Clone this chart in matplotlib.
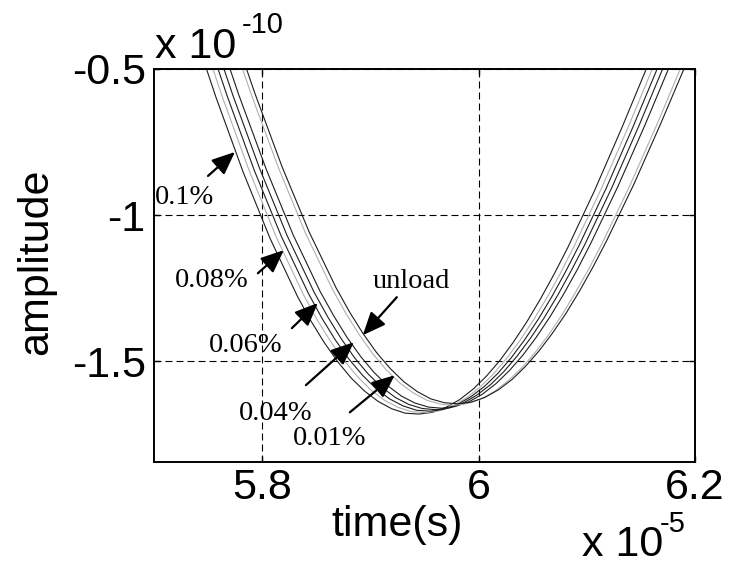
import matplotlib
matplotlib.use('Agg')
import matplotlib.pyplot as plt

# time in units of 1e-5 s, amplitude in units of 1e-10
t_c1 = [5.7323, 5.7573, 5.7823, 5.8073, 5.8323, 5.8448, 5.8573, 5.8698, 5.8823, 5.8948,
        5.9073, 5.9198, 5.9323, 5.9448, 5.9573, 5.9698, 5.9823, 5.9948, 6.0073, 6.0198,
        6.0323, 6.0448, 6.0573, 6.0698, 6.0823, 6.1073, 6.1323, 6.1573, 6.1823]
a_c1 = [-0.321, -0.597, -0.852, -1.080, -1.276, -1.361, -1.436, -1.502, -1.558, -1.603,
        -1.638, -1.663, -1.678, -1.681, -1.675, -1.658, -1.632, -1.596, -1.551, -1.497,
        -1.434, -1.364, -1.286, -1.202, -1.112, -0.915, -0.702, -0.479, -0.250]

t_c2 = [5.7381, 5.7631, 5.7881, 5.8131, 5.8381, 5.8506, 5.8631, 5.8756, 5.8881, 5.9006,
        5.9131, 5.9256, 5.9381, 5.9506, 5.9631, 5.9756, 5.9881, 6.0006, 6.0131, 6.0256,
        6.0381, 6.0506, 6.0631, 6.0756, 6.0881, 6.1131, 6.1381, 6.1631, 6.1881]
a_c2 = [-0.320, -0.595, -0.849, -1.076, -1.272, -1.357, -1.432, -1.497, -1.553, -1.599,
        -1.634, -1.658, -1.673, -1.676, -1.670, -1.654, -1.627, -1.591, -1.546, -1.492,
        -1.430, -1.360, -1.283, -1.199, -1.108, -0.912, -0.700, -0.477, -0.249]

t_c3 = [5.7427, 5.7677, 5.7927, 5.8177, 5.8427, 5.8552, 5.8677, 5.8802, 5.8927, 5.9052,
        5.9177, 5.9302, 5.9427, 5.9552, 5.9677, 5.9802, 5.9927, 6.0052, 6.0177, 6.0302,
        6.0427, 6.0552, 6.0677, 6.0802, 6.0927, 6.1177, 6.1427, 6.1677, 6.1927]
a_c3 = [-0.319, -0.593, -0.847, -1.073, -1.268, -1.353, -1.428, -1.493, -1.548, -1.594,
        -1.629, -1.653, -1.668, -1.671, -1.665, -1.649, -1.622, -1.587, -1.542, -1.488,
        -1.426, -1.356, -1.279, -1.195, -1.105, -0.910, -0.698, -0.476, -0.249]

t_c4 = [5.7480, 5.7730, 5.7980, 5.8230, 5.8480, 5.8605, 5.8730, 5.8855, 5.8980, 5.9105,
        5.9230, 5.9355, 5.9480, 5.9605, 5.9730, 5.9855, 5.9980, 6.0105, 6.0230, 6.0355,
        6.0480, 6.0605, 6.0730, 6.0855, 6.0980, 6.1230, 6.1480, 6.1730, 6.1980]
a_c4 = [-0.318, -0.591, -0.844, -1.070, -1.264, -1.348, -1.423, -1.489, -1.544, -1.589,
        -1.624, -1.648, -1.662, -1.666, -1.660, -1.644, -1.617, -1.582, -1.537, -1.483,
        -1.421, -1.352, -1.275, -1.191, -1.102, -0.907, -0.696, -0.474, -0.248]

t_c5 = [5.7535, 5.7785, 5.8035, 5.8285, 5.8535, 5.8660, 5.8785, 5.8910, 5.9035, 5.9160,
        5.9285, 5.9410, 5.9535, 5.9660, 5.9785, 5.9910, 6.0035, 6.0160, 6.0285, 6.0410,
        6.0535, 6.0660, 6.0785, 6.0910, 6.1035, 6.1285, 6.1535, 6.1785, 6.2035]
a_c5 = [-0.317, -0.590, -0.841, -1.067, -1.261, -1.344, -1.419, -1.484, -1.539, -1.584,
        -1.619, -1.643, -1.657, -1.661, -1.655, -1.639, -1.613, -1.577, -1.532, -1.479,
        -1.417, -1.348, -1.271, -1.188, -1.098, -0.904, -0.694, -0.473, -0.247]

t_c6 = [5.7648, 5.7898, 5.8148, 5.8398, 5.8648, 5.8773, 5.8898, 5.9023, 5.9148, 5.9273,
        5.9398, 5.9523, 5.9648, 5.9773, 5.9898, 6.0023, 6.0148, 6.0273, 6.0398, 6.0523,
        6.0648, 6.0773, 6.0898, 6.1023, 6.1148, 6.1398, 6.1648, 6.1898, 6.2148]
a_c6 = [-0.315, -0.586, -0.836, -1.060, -1.253, -1.336, -1.410, -1.475, -1.530, -1.575,
        -1.609, -1.634, -1.647, -1.651, -1.645, -1.629, -1.603, -1.567, -1.523, -1.470,
        -1.409, -1.340, -1.263, -1.181, -1.092, -0.899, -0.690, -0.470, -0.246]

t_c7 = [5.7683, 5.7933, 5.8183, 5.8433, 5.8683, 5.8808, 5.8933, 5.9058, 5.9183, 5.9308,
        5.9433, 5.9558, 5.9683, 5.9808, 5.9933, 6.0058, 6.0183, 6.0308, 6.0433, 6.0558,
        6.0683, 6.0808, 6.0933, 6.1058, 6.1183, 6.1433, 6.1683, 6.1933, 6.2183]
a_c7 = [-0.314, -0.584, -0.834, -1.057, -1.249, -1.332, -1.406, -1.471, -1.525, -1.570,
        -1.604, -1.629, -1.642, -1.646, -1.640, -1.624, -1.598, -1.563, -1.518, -1.465,
        -1.404, -1.336, -1.260, -1.177, -1.088, -0.896, -0.687, -0.469, -0.245]

series_t = [t_c1, t_c2, t_c3, t_c4, t_c5, t_c6, t_c7]
series_a = [a_c1, a_c2, a_c3, a_c4, a_c5, a_c6, a_c7]
series_color = ['#1e1e1e', '#b0b0b0', '#1e1e1e', '#1e1e1e', '#1e1e1e', '#b0b0b0', '#1e1e1e']

x_ticks = [5.8, 6.0, 6.2]
x_tick_labels = ['5.8', '6', '6.2']
y_ticks = [-1.5, -1.0, -0.5]
y_tick_labels = ['-1.5', '-1', '-0.5']

ann_labels = ['0.1%', '0.08%', '0.06%', '0.04%', '0.01%', 'unload']
ann_text_t = [5.7009, 5.7194, 5.7508, 5.7785, 5.8283, 5.9022]
ann_text_a = [-0.962, -1.247, -1.469, -1.702, -1.788, -1.250]
arrow_tail_t = [5.7499, 5.7960, 5.8274, 5.8404, 5.8810, 5.9244]
arrow_tail_a = [-0.866, -1.199, -1.387, -1.582, -1.675, -1.281]
arrow_tip_t = [5.7748, 5.8200, 5.8514, 5.8847, 5.9225, 5.8930]
arrow_tip_a = [-0.784, -1.120, -1.301, -1.435, -1.548, -1.411]

plt.rcParams['font.family'] = ['Liberation Sans', 'DejaVu Sans']
plt.rcParams['axes.unicode_minus'] = False

W, H = 733, 565
fig = plt.figure(figsize=(W / 100, H / 100), dpi=100)
ax = fig.add_axes([154 / W, 1 - 462 / H, 541 / W, 393 / H])

for t, a, c in zip(series_t, series_a, series_color):
    ax.plot(t, a, color=c, lw=0.8, solid_joinstyle='round')

ax.set_xlim(5.7, 6.2)
ax.set_ylim(-1.845, -0.5)
ax.set_xticks(x_ticks)
ax.set_xticklabels(x_tick_labels)
ax.set_yticks(y_ticks)
ax.set_yticklabels(y_tick_labels)
ax.tick_params(axis='both', direction='in', length=4, width=1.0, labelsize=31, pad=4,
               top=True, right=True)
ax.tick_params(axis='y', pad=6)
ax.grid(True, color='k', lw=0.8, linestyle=(0, (6.3, 3.6)))
for s in ax.spines.values():
    s.set_linewidth(1.4)
    s.set_color('k')

for lab, xt, yt, xa, ya, xh, yh in zip(ann_labels, ann_text_t, ann_text_a,
                                       arrow_tail_t, arrow_tail_a,
                                       arrow_tip_t, arrow_tip_a):
    ax.text(xt, yt, lab, family=['Liberation Serif', 'DejaVu Serif'], fontsize=20.5,
            ha='left', va='baseline', color='k')
    ax.annotate('', xy=(xh, yh), xytext=(xa, ya),
                arrowprops=dict(arrowstyle='-|>,head_length=0.7,head_width=0.3',
                                color='k', lw=1.6, mutation_scale=20,
                                shrinkA=0, shrinkB=0))

fig.text(36 / W, 1 - 262 / H, 'amplitude', rotation=90, ha='center', va='center',
         fontsize=31)
fig.text(397 / W, 1 - 525 / H, 'time(s)', ha='center', va='center', fontsize=31)

fig.text(155 / W, 1 - 58 / H, 'x 10', ha='left', va='baseline', fontsize=31)
fig.text(242 / W, 1 - 33 / H, '-10', ha='left', va='baseline', fontsize=21)
fig.text(582 / W, 1 - 556 / H, 'x 10', ha='left', va='baseline', fontsize=31)
fig.text(660 / W, 1 - 532 / H, '-5', ha='left', va='baseline', fontsize=21)

fig.savefig('out.png', dpi=100)
